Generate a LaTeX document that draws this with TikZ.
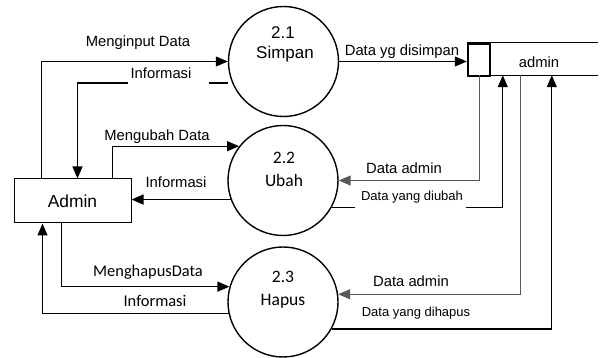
\documentclass[tikz,border=0pt]{standalone}
\usepackage{fontspec}
\setmainfont{Liberation Sans}
\newfontfamily\calib{Carlito}
\usetikzlibrary{arrows.meta}
\begin{document}
\begin{tikzpicture}[x=1pt,y=-1pt,
  flow/.style={line width=1.1pt, -{Triangle[length=12pt,width=10pt]}},
  flowg/.style={flow, draw=black!65},
  proc/.style={circle, draw, line width=1.4pt, minimum size=110pt, inner sep=0pt},
  lbl/.style={font=\fontsize{14.8}{16}\selectfont, inner sep=1pt},
  slbl/.style={font=\fontsize{13}{15}\selectfont, inner sep=1pt},
  clbl/.style={font=\calib\fontsize{16.4}{18}\selectfont, inner sep=1pt},
  ptxt/.style={font=\fontsize{17}{19}\selectfont, inner sep=1pt},
  ctxt/.style={font=\calib\fontsize{17.5}{19}\selectfont, inner sep=1pt},
]
\useasboundingbox (0,0) rectangle (603,358);

% processes
\node[proc] (p1) at (283.5,61.5) {};
\node[proc] (p2) at (283,180.5) {};
\node[proc] (p3) at (283,302) {};
\node[ptxt] (p1n) at (283,33) {2.1};
\node[ptxt] (p1t) at (285,54) {Simpan};
\node[ctxt] (p2n) at (284,158) {2.2};
\node[ctxt] (p2t) at (284,180) {Ubah};
\node[ctxt] (p3n) at (283,277) {2.3};
\node[ctxt] (p3t) at (283,301) {Hapus};

% external entity
\node[draw, line width=1pt, minimum width=117pt, minimum height=44pt, inner sep=0pt,
      font=\fontsize{17.4}{19}\selectfont] (admin) at (72.5,201) {Admin};

% data store
\node[minimum width=131pt, minimum height=32pt, inner sep=0pt] (store) at (532.5,59) {};
\draw[line width=1.1pt] (store.north west) -- (store.north east);
\draw[line width=1.1pt] (store.south west) -- (store.south east);
\node[draw, line width=1.8pt, minimum width=22pt, minimum height=32pt, inner sep=0pt,
      anchor=north west] (sid) at (store.north west) {};
\node[lbl] (stname) at (539,62) {admin};

% flows Admin <-> 2.1
\draw[flow] ([xshift=28pt]admin.north west) |- (p1.west);
\draw[flow] ([yshift=-21.5pt]p1.west) -| ([xshift=64pt]admin.north west);
% flows Admin <-> 2.2
\draw[flow] ([xshift=99pt]admin.north west) |- (p2.142.5);
\draw[flow] (p2.200.8) -- (admin.east |- p2.200.8);
% flows Admin <-> 2.3
\draw[flow] ([xshift=48pt]admin.south west) |- (p3.164.2);
\draw[flow] (p3.192.6) -| ([xshift=29pt]admin.south west);

% flows with the store
\draw[flow] (p1.east) -- (sid.west |- p1.east);
\draw[flowg] ([xshift=13pt]store.south west) |- (p2.east);
\draw[flow] (p2.331.2) -| ([xshift=36pt]store.south west);
\draw[flowg] ([xshift=54pt]store.south west) |- (p3.8.4);
\draw[flow] (p3.331.8) -| ([xshift=85pt]store.south west);

% gaps behind labels
\fill[white] (128,79) rectangle (209,87);
\fill[white] (355,203) rectangle (466,211);

% labels
\node[lbl] (l1) at (138,43) {Menginput Data};
\node[lbl] (l2) at (161,73) {Informasi};
\node[lbl] (l3) at (157,137) {Mengubah Data};
\node[lbl] (l4) at (176,182) {Informasi};
\node[clbl] (l5) at (148,272) {MenghapusData};
\node[clbl] (l6) at (155,301) {Informasi};
\node[lbl] (l7) at (402,52) {Data yg disimpan};
\node[lbl] (l8) at (404,168) {Data admin};
\node[slbl] (l9) at (412,197) {Data yang diubah};
\node[lbl] (l10) at (411,281) {Data admin};
\node[slbl] (l11) at (416,313) {Data yang dihapus};
\end{tikzpicture}
\end{document}
